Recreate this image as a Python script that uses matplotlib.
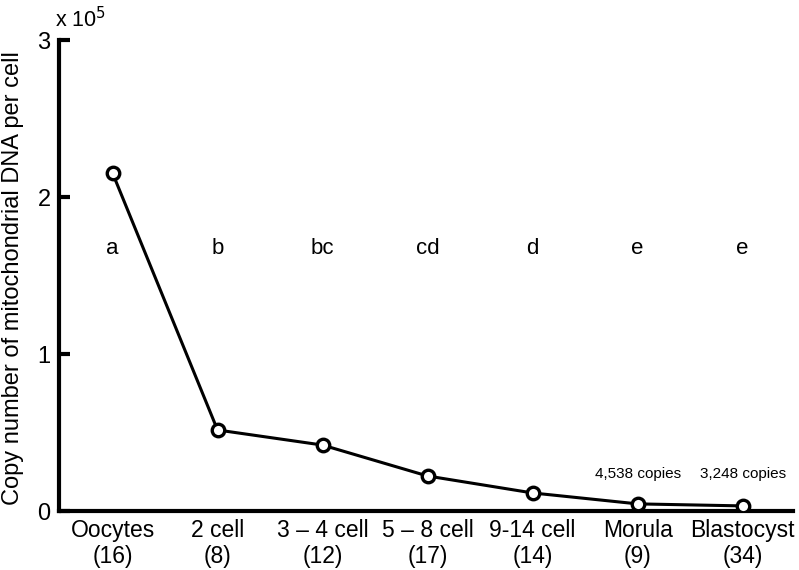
import matplotlib.pyplot as plt

plt.rcParams['font.family'] = ['Liberation Sans', 'DejaVu Sans']

stages = ['Oocytes', '2 cell', '3 – 4 cell', '5 – 8 cell', '9-14 cell', 'Morula', 'Blastocyst']
counts = ['(16)', '(8)', '(12)', '(17)', '(14)', '(9)', '(34)']
copies = [215300, 51600, 42000, 22300, 11500, 4538, 3248]
letters = ['a', 'b', 'bc', 'cd', 'd', 'e', 'e']
notes = {5: '4,538 copies', 6: '3,248 copies'}

SCALE = 1e5

fig = plt.figure(figsize=(7.99, 5.70), dpi=100)
ax = fig.add_axes([0.0738, 0.1035, 0.9187, 0.8263])

x = range(len(stages))
y = [c / SCALE for c in copies]
ax.plot(x, y, color='black', lw=2.2, marker='o', ms=9, mfc='white',
        mec='black', mew=2.4, zorder=3)

for i, lt in enumerate(letters):
    ax.text(i, 1.67, lt, ha='center', va='center', fontsize=16)
for i, txt in notes.items():
    ax.text(i, 0.235, txt, ha='center', va='center', fontsize=11)

ax.set_xlim(-0.51, 6.48)
ax.set_ylim(0, 3)
ax.set_yticks([0, 1, 2, 3])
ax.set_yticklabels(['0', '1', '2', '3'], fontsize=17)
ax.set_xticks(list(x))
ax.set_xticklabels([f'{s}\n{c}' for s, c in zip(stages, counts)], fontsize=16.5,
                   linespacing=1.15)
ax.tick_params(axis='y', direction='in', length=8, width=3, pad=6)
ax.tick_params(axis='x', length=0, pad=6)

for side in ['top', 'right']:
    ax.spines[side].set_visible(False)
for side in ['left', 'bottom']:
    ax.spines[side].set_linewidth(3)

ax.set_ylabel('Copy number of mitochondrial DNA per cell', fontsize=17)
ax.yaxis.set_label_coords(-0.047, 0.495)
fig.text(0.069, 0.965, r'x 10$^5$', fontsize=15.5, ha='left', va='center')

fig.savefig('out.png', dpi=100)
